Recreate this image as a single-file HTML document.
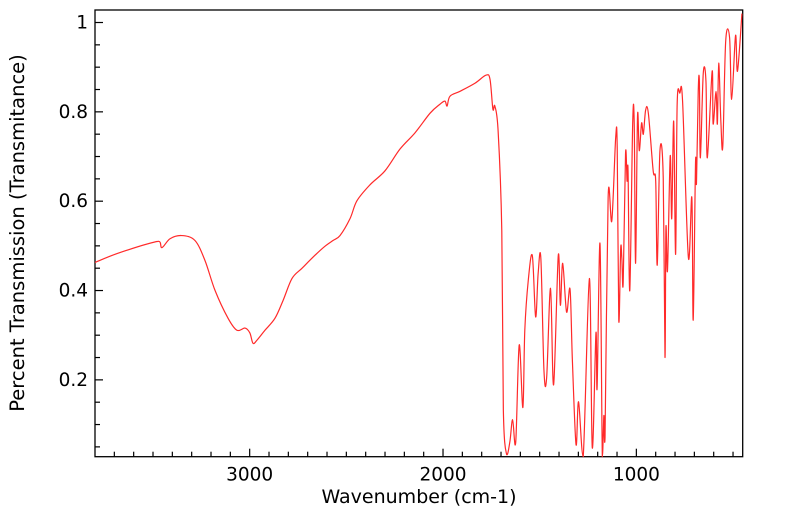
<!DOCTYPE html>
<html><head><meta charset="utf-8"><style>
html,body{margin:0;padding:0;background:#fff;}
svg{display:block;font-family:"DejaVu Sans","Liberation Sans",sans-serif;}
</style></head><body>
<svg id="chart" width="799" height="516">
<g id="axes"></g>
<path id="series" fill="none" stroke="#ff2a2a" stroke-width="1.2" stroke-linejoin="round"/>
<text x="419" y="503" text-anchor="middle" font-size="19">Wavenumber (cm-1)</text>
<text transform="translate(24,233) rotate(-90)" text-anchor="middle" font-size="19.5">Percent Transmission (Transmitance)</text>
</svg>
<script>
const wavenumbers = [3800,3671,3474,3454,3412,3351,3283,3231,3179,3112,3066,3024,2999,2983,2962,2921,2869,2827,2781,2729,2662,2611,2569,2533,2481,2445,2377,2300,2222,2145,2067,2016,1990,1979,1964,1912,1835,1778,1757,1742,1732,1715,
1696,1688,1671,1654,1640,1624,1606,1587,1577,1559,1538,1521,1508,1494,1478,1464,1444,1428,1404,1393,1381,1361,1343,1331,1312,1299,1275,1243,1228,1209,1203,1188,1176,1168,1162,
1146,1127,1107,1099,1091,1081,1075,1068,1056,1048,1043,1034,1019,1011,1004,994,985,973,964,952,938,913,900,892,878,861,852,847,839,825,817,807,797,789,775,761,731,713,706,694,689,
680,674,669,654,640,633,608,603,588,581,574,563,553,538,518,507,487,477,454];
const transmittance = [0.463,0.485,0.510,0.496,0.516,0.523,0.512,0.467,0.400,0.338,0.311,0.316,0.305,0.282,0.289,0.311,0.338,0.378,0.427,0.450,0.479,0.499,0.512,0.523,0.561,0.601,0.637,0.668,0.717,0.753,0.797,0.817,0.824,0.813,0.835,0.846,0.864,0.882,0.873,0.806,0.813,0.757,
0.534,0.133,0.033,0.062,0.111,0.060,0.278,0.138,0.311,0.423,0.478,0.341,0.438,0.472,0.222,0.205,0.405,0.189,0.478,0.367,0.461,0.352,0.403,0.245,0.055,0.151,0.028,0.427,0.048,0.305,0.182,0.505,0.028,0.120,0.071,
0.608,0.556,0.742,0.719,0.334,0.494,0.472,0.418,0.706,0.645,0.668,0.400,0.775,0.773,0.461,0.790,0.713,0.775,0.750,0.804,0.797,0.668,0.645,0.457,0.713,0.652,0.251,0.541,0.445,0.701,0.561,0.779,0.481,0.817,0.842,0.824,0.474,0.608,0.334,0.686,0.641,
0.846,0.868,0.697,0.886,0.868,0.697,0.891,0.773,0.846,0.773,0.909,0.779,0.723,0.958,0.967,0.828,0.971,0.891,1.020];
const xMajorTicks = [3000,2000,1000];
const xTickLabels = ["3000","2000","1000"];
const yMajorTicks = [0.2,0.4,0.6,0.8,1.0];
const yTickLabels = ["0.2","0.4","0.6","0.8","1"];

const L=95,R=742.7,T=10,B=456.7;
const xMin=3800,xMax=450,yMin=0.028,yMax=1.028;
const xs=v=>L+(xMin-v)/(xMin-xMax)*(R-L);
const ys=v=>B-(v-yMin)/(yMax-yMin)*(B-T);
const NS="http://www.w3.org/2000/svg";
const axes=document.getElementById('axes');
function line(x1,y1,x2,y2,w){const l=document.createElementNS(NS,'line');l.setAttribute('x1',x1);l.setAttribute('y1',y1);l.setAttribute('x2',x2);l.setAttribute('y2',y2);l.setAttribute('stroke','#000');l.setAttribute('stroke-width',w);axes.appendChild(l);return l;}
const frame=document.createElementNS(NS,'rect');
frame.setAttribute('x',L);frame.setAttribute('y',T);frame.setAttribute('width',R-L);frame.setAttribute('height',B-T);
frame.setAttribute('fill','none');frame.setAttribute('stroke','#000');frame.setAttribute('stroke-width','1.3');


axes.appendChild(frame);
for(let v=3700;v>=500;v-=100){const x=xs(v);const major=v%1000===0;const t=line(x,B,x,B-(major?8:5),1.2);

}
xMajorTicks.forEach((v,i)=>{const t=document.createElementNS(NS,'text');t.setAttribute('x',xs(v));t.setAttribute('y',B+24);t.setAttribute('text-anchor','middle');t.setAttribute('font-size','18.5');t.textContent=xTickLabels[i];


axes.appendChild(t);});
for(let k=1;k<=20;k++){const v=k*0.05;if(v<yMin||v>yMax)continue;const y=ys(v);const major=k%4===0;const t=line(L,y,L+(major?8:5),y,1.2);

}
yMajorTicks.forEach((v,i)=>{const t=document.createElementNS(NS,'text');t.setAttribute('x',L-7);t.setAttribute('y',ys(v)+6);t.setAttribute('text-anchor','end');t.setAttribute('font-size','18.5');t.textContent=yTickLabels[i];


axes.appendChild(t);});
// smooth curve (Catmull-Rom) through data points
const P=wavenumbers.map((w,i)=>[xs(w),ys(transmittance[i])]);
let d='M'+P[0][0].toFixed(2)+','+P[0][1].toFixed(2);
for(let i=0;i<P.length-1;i++){
  const p0=P[Math.max(0,i-1)],p1=P[i],p2=P[i+1],p3=P[Math.min(P.length-1,i+2)];
  const t=0.5/3;
  let c1x=p1[0]+(p2[0]-p0[0])*t,c1y=p1[1]+(p2[1]-p0[1])*t;
  let c2x=p2[0]-(p3[0]-p1[0])*t,c2y=p2[1]-(p3[1]-p1[1])*t;
  c1x=Math.min(Math.max(c1x,p1[0]),p2[0]);c2x=Math.min(Math.max(c2x,p1[0]),p2[0]);
  c1y=Math.min(Math.max(c1y,T),B);c2y=Math.min(Math.max(c2y,T),B);
  d+='C'+c1x.toFixed(2)+','+c1y.toFixed(2)+' '+c2x.toFixed(2)+','+c2y.toFixed(2)+' '+p2[0].toFixed(2)+','+p2[1].toFixed(2);
}
document.getElementById('series').setAttribute('d',d);
</script>
</body></html>
